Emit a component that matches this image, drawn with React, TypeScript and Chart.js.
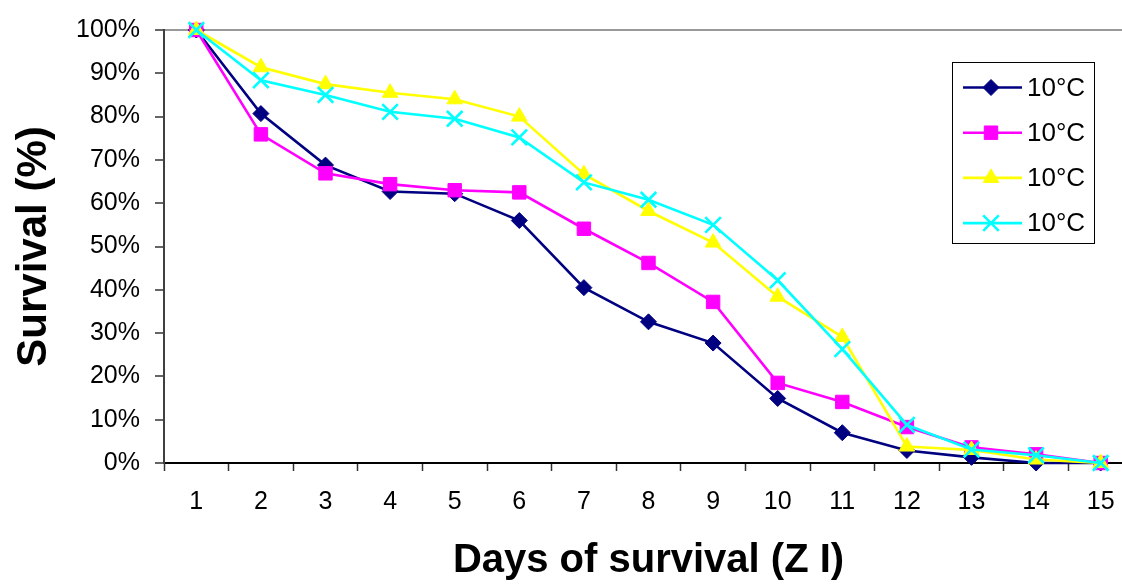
import React, { useEffect, useRef } from 'react';
import { Chart, registerables } from 'chart.js';
import { drawPoint } from 'chart.js/helpers';

Chart.register(...registerables);

const days = ['1', '2', '3', '4', '5', '6', '7', '8', '9', '10', '11', '12', '13', '14', '15'];
const seriesLabels = ['10°C', '10°C', '10°C', '10°C'];
const seriesNavy = [100, 80.7, 68.8, 62.7, 62.2, 56.0, 40.5, 32.6, 27.7, 14.9, 7.0, 2.9, 1.3, 0, 0];
const seriesMagenta = [100, 75.9, 66.9, 64.4, 63.0, 62.5, 54.1, 46.2, 37.2, 18.5, 14.1, 8.3, 3.6, 2.0, 0];
const seriesYellow = [100, 91.4, 87.5, 85.5, 84.0, 80.0, 66.7, 58.2, 50.9, 38.4, 29.1, 3.8, 3.0, 0.8, 0];
const seriesCyan = [100, 88.4, 85.0, 81.1, 79.5, 75.2, 64.8, 60.8, 55.0, 42.2, 26.3, 8.8, 3.1, 1.8, 0];
const yTicks = [0, 10, 20, 30, 40, 50, 60, 70, 80, 90, 100];

const FONT = "'Liberation Sans', Arial, sans-serif";

const boxLegend = {
  id: 'boxLegend',
  afterDraw(chart: any) {
    const ctx = chart.ctx;
    ctx.save();
    ctx.fillStyle = '#ffffff';
    ctx.fillRect(952.5, 62.5, 142, 181);
    ctx.strokeStyle = '#000000';
    ctx.lineWidth = 1;
    ctx.strokeRect(952.5, 62.5, 142, 181);
    chart.data.datasets.forEach((ds: any, i: number) => {
      const y = 87.5 + i * 45.2;
      ctx.strokeStyle = ds.borderColor;
      ctx.lineWidth = ds.borderWidth;
      ctx.beginPath();
      ctx.moveTo(963, y);
      ctx.lineTo(1022, y);
      ctx.stroke();
      ctx.fillStyle = ds.pointBackgroundColor;
      ctx.strokeStyle = ds.pointBorderColor;
      ctx.lineWidth = ds.pointBorderWidth;
      drawPoint(ctx, { pointStyle: ds.pointStyle, radius: ds.pointRadius, rotation: 0, borderWidth: ds.pointBorderWidth }, 991, y);
      ctx.fillStyle = '#000000';
      ctx.font = `26px ${FONT}`;
      ctx.textAlign = 'left';
      ctx.textBaseline = 'middle';
      ctx.fillText(ds.label, 1027, y + 1);
    });
    ctx.restore();
  },
};

export default function App() {
  const ref = useRef<HTMLCanvasElement | null>(null);
  useEffect(() => {
    if (!ref.current) return;
    const chart = new Chart(ref.current, {
      type: 'line',
      data: {
        labels: days,
        datasets: [
          {
            label: seriesLabels[0], data: seriesNavy, borderColor: '#000080', borderWidth: 2.6,
            pointStyle: 'rectRot', pointRadius: 8, pointBackgroundColor: '#000080', pointBorderColor: '#000080',
            pointBorderWidth: 1, order: 4, clip: false, tension: 0,
          },
          {
            label: seriesLabels[1], data: seriesMagenta, borderColor: '#FF00FF', borderWidth: 2.6,
            pointStyle: 'rect', pointRadius: 9.5, pointBackgroundColor: '#FF00FF', pointBorderColor: '#FF00FF',
            pointBorderWidth: 1, order: 3, clip: false, tension: 0,
          },
          {
            label: seriesLabels[2], data: seriesYellow, borderColor: '#FFFF00', borderWidth: 2.6,
            pointStyle: 'triangle', pointRadius: 9, pointBackgroundColor: '#FFFF00', pointBorderColor: '#FFFF00',
            pointBorderWidth: 1, order: 2, clip: false, tension: 0,
          },
          {
            label: seriesLabels[3], data: seriesCyan, borderColor: '#00FFFF', borderWidth: 2.6,
            pointStyle: 'crossRot', pointRadius: 11, pointBackgroundColor: '#00FFFF', pointBorderColor: '#00FFFF',
            pointBorderWidth: 2.6, order: 1, clip: false, tension: 0,
          },
        ] as any,
      },
      options: {
        responsive: false,
        animation: false,
        events: [],
        layout: { padding: { left: 13, right: 17, top: 27, bottom: 0 } },
        plugins: { legend: { display: false }, tooltip: { enabled: false } },
        scales: {
          x: {
            type: 'category',
            offset: true,
            grid: {
              offset: true, drawOnChartArea: false, drawTicks: true, tickLength: 8,
              tickColor: '#333333', tickWidth: 1.5,
            },
            border: { display: true, color: '#000000', width: 2 },
            ticks: { color: '#000000', font: { family: FONT, size: 25 }, padding: 16, maxRotation: 0, autoSkip: false },
            title: {
              display: true, text: 'Days of survival (Z I)', color: '#000000',
              font: { family: FONT, size: 40, weight: 'bold', lineHeight: 1 },
              padding: { top: 0, bottom: 5 },
            },
            afterFit: (s: any) => { s.height = 123; },
          },
          y: {
            min: 0, max: 100,
            afterBuildTicks: (s: any) => { s.ticks = yTicks.map((v) => ({ value: v })); },
            grid: {
              drawOnChartArea: true, drawTicks: true, tickLength: 9,
              color: (c: any) => (c.tick && c.tick.value === 100 ? '#999999' : 'rgba(0,0,0,0)'),
              lineWidth: 2, tickColor: '#333333', tickWidth: 1.5,
            },
            border: { display: true, color: '#404040', width: 2 },
            ticks: {
              color: '#000000', font: { family: FONT, size: 25 }, padding: 15,
              callback: (v: any) => `${v}%`,
            },
            title: {
              display: true, text: 'Survival (%)', color: '#000000',
              font: { family: FONT, size: 42, weight: 'bold', lineHeight: 1 },
              padding: 0,
            },
            afterFit: (s: any) => { s.width = 151; },
          },
        },
      } as any,
      plugins: [boxLegend],
    });
    return () => chart.destroy();
  }, []);
  return (
    <div style={{ position: 'absolute', left: 0, top: 0, width: 1122, height: 586, overflow: 'hidden', background: '#fff' }}>
      <canvas ref={ref} width={1150} height={586} style={{ display: 'block', width: 1150, height: 586 }} />
    </div>
  );
}
